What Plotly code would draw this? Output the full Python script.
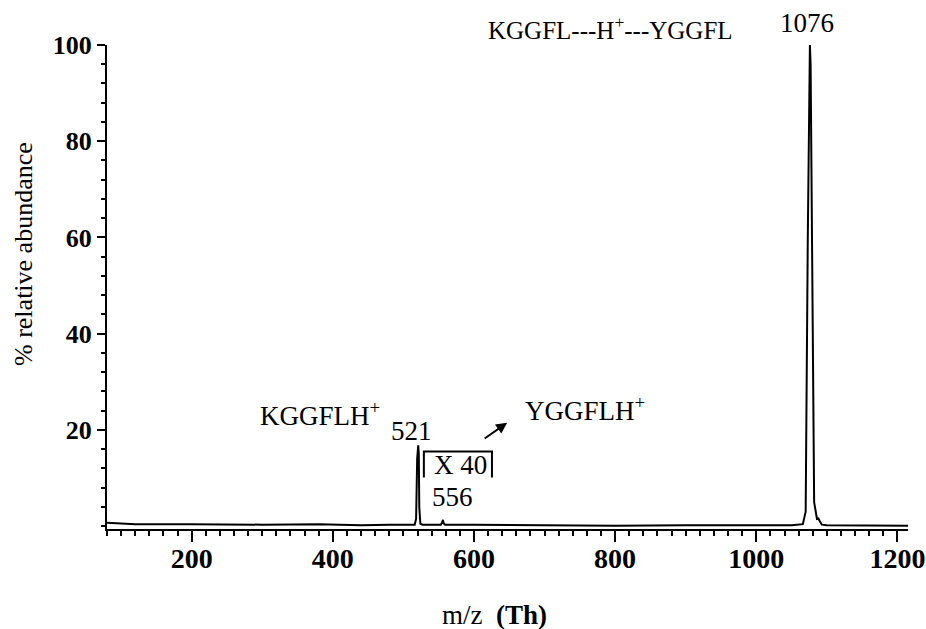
import plotly.graph_objects as go

# Spectrum trace (m/z vs % relative abundance)
mz = [80, 120, 200, 300, 380, 440, 480, 510, 516, 518, 519.5, 521, 521.8, 522.5, 524, 527,
      540, 553, 555, 556, 557, 559, 600, 700, 800, 900, 1000, 1050, 1066, 1070, 1073,
      1075, 1076, 1077, 1079, 1082, 1086, 1088, 1090, 1093, 1100, 1150, 1215]
abundance = [0.7, 0.4, 0.4, 0.3, 0.4, 0.2, 0.3, 0.2, 0.3, 1.5, 14.0, 16.8, 15.0, 4.0, 0.5, 0.3,
             0.3, 0.3, 0.8, 1.3, 0.6, 0.3, 0.3, 0.2, 0.1, 0.2, 0.1, 0.2, 0.4, 3.0, 60.0,
             98.0, 100.0, 96.0, 50.0, 5.0, 1.5, 1.6, 1.0, 0.3, 0.2, 0.1, 0.1]

# Labelled peaks
peak_mz = [521, 556, 1076]

x_ticks = [200, 400, 600, 800, 1000, 1200]
y_ticks = [20, 40, 60, 80, 100]

serif = "Liberation Serif"

fig = go.Figure()
fig.add_trace(go.Scatter(x=mz, y=abundance, mode="lines",
                         line=dict(color="black", width=2), hoverinfo="skip"))

ann_font = dict(family=serif, size=27, color="black")


def label(x, y, text, **kw):
    d = dict(x=x, y=y, text=text, showarrow=False, font=ann_font,
             xanchor="center", yanchor="middle")
    d.update(kw)
    return d


annotations = [
    label(512, 19.8, str(peak_mz[0])),
    label(569, 6.1, str(peak_mz[1])),
    label(1072, 1.045, str(peak_mz[2]), yref="paper"),
    label(382, 23.4, "KGGFLH<sup>+</sup>"),
    label(758, 24.4, "YGGFLH<sup>+</sup>"),
    label(794, 1.035, "KGGFL---H<sup>+</sup>---YGGFL", yref="paper",
          font=dict(family=serif, size=25, color="black")),
    label(581, 12.8, "X 40"),
    dict(x=647, y=21.5, ax=613, ay=18, axref="x", ayref="y", xref="x", yref="y",
         text="", showarrow=True, arrowhead=2, arrowsize=1.1, arrowwidth=2,
         arrowcolor="black"),
    # axis titles
    label(0.484, -0.178, "m/z  <b>(Th)</b>", xref="paper", yref="paper",
          font=dict(family=serif, size=27, color="black")),
    label(-0.105, 0.568, "% relative abundance", xref="paper", yref="paper",
          textangle=-90, font=dict(family=serif, size=26, color="black")),
]

fig.update_layout(
    width=926, height=629,
    margin=dict(l=107, r=18, t=45, b=100),
    plot_bgcolor="white", paper_bgcolor="white",
    showlegend=False,
    annotations=annotations,
    shapes=[dict(type="path", xref="x", yref="y",
                 path="M 529,10.1 L 529,15.5 L 625.5,15.5 L 625.5,10.1",
                 line=dict(color="black", width=2))],
    xaxis=dict(
        range=[80, 1215], tickvals=x_ticks, ticks="outside", ticklen=11, tickwidth=2,
        tickcolor="black", showline=True, linecolor="black", linewidth=2,
        showgrid=False, zeroline=False, automargin=False, ticklabelstandoff=-8,
        tickfont=dict(family=serif, size=28, color="black", weight="bold"),
        minor=dict(dtick=20, ticks="outside", ticklen=5, tickwidth=1.5, tickcolor="black"),
    ),
    yaxis=dict(
        range=[-0.6, 100], tickvals=y_ticks, ticks="outside", ticklen=8, tickwidth=2,
        tickcolor="black", showline=True, linecolor="black", linewidth=2,
        showgrid=False, zeroline=False, automargin=False,
        tickfont=dict(family=serif, size=26, color="black", weight="bold"),
        minor=dict(dtick=4, ticks="outside", ticklen=4, tickwidth=1.5, tickcolor="black"),
    ),
)

fig.write_html("out.html")
